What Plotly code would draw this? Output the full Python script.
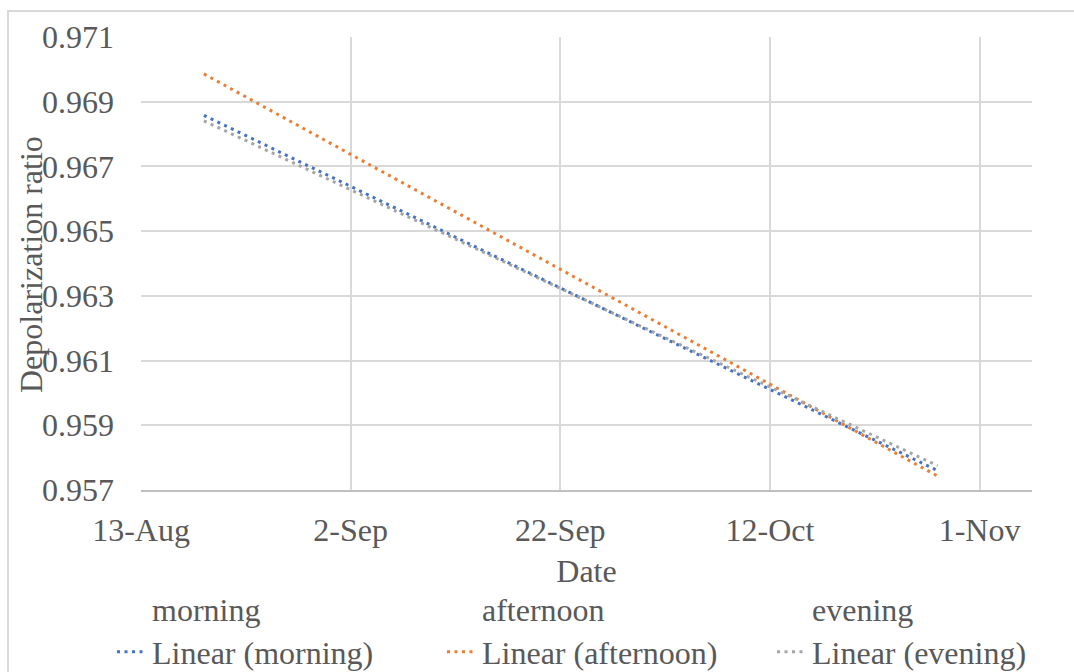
import plotly.graph_objects as go

# Trend-line endpoints
series_names = ["morning", "afternoon", "evening"]
trend_dates = ["2020-08-19", "2020-10-28"]
morning_trend = [0.96858, 0.95760]
afternoon_trend = [0.96986, 0.95743]
evening_trend = [0.96841, 0.95775]
colors = ["#4472C4", "#ED7D31", "#A5A5A5"]
x_ticks = ["2020-08-13", "2020-09-02", "2020-09-22", "2020-10-12", "2020-11-01"]
x_tick_labels = ["13-Aug", "2-Sep", "22-Sep", "12-Oct", "1-Nov"]
y_ticks = [0.957, 0.959, 0.961, 0.963, 0.965, 0.967, 0.969, 0.971]

FONT = "Liberation Serif"
TXT = "#595959"
FS = 32

fig = go.Figure()

# legend-only entries for the raw series (no visible marker)
for name in series_names:
    fig.add_trace(go.Scatter(x=[None], y=[None], mode="lines", name=name,
                             line=dict(width=0, color="rgba(0,0,0,0)"),
                             legend="legend", hoverinfo="skip"))

for name, vals, c in zip(series_names, [morning_trend, afternoon_trend, evening_trend], colors):
    fig.add_trace(go.Scatter(x=trend_dates, y=vals, mode="lines",
                             name=f"Linear ({name})",
                             line=dict(color=c, width=3, dash="3px,4.5px"),
                             legend="legend2"))

L, R, T, B = 141, 42, 37, 182
W, H = 1074, 672
pw = W - L - R
ph = H - T - B

def px_x(p):
    return (p - L) / pw

def px_y(p):
    return (H - B - p) / ph

fig.update_layout(
    width=W, height=H,
    margin=dict(l=L, r=R, t=T, b=B, autoexpand=False),
    paper_bgcolor="white", plot_bgcolor="white",
    font=dict(family=FONT, size=FS, color=TXT),
    xaxis=dict(
        type="date",
        range=["2020-08-13", "2020-11-06"],
        tickvals=x_ticks, ticktext=x_tick_labels,
        showgrid=True, gridcolor="#d9d9d9", gridwidth=2,
        showline=True, linecolor="#bfbfbf", linewidth=2,
        zeroline=False, ticks="", ticklabelstandoff=11,
        tickfont=dict(family=FONT, size=FS, color=TXT),
        title=dict(text="Date", font=dict(family=FONT, size=FS, color=TXT), standoff=12),
    ),
    yaxis=dict(
        range=[0.957, 0.971],
        tickvals=y_ticks, ticktext=[f"{v:.3f}" for v in y_ticks],
        showgrid=True, gridcolor="#d9d9d9", gridwidth=2,
        showline=False, zeroline=False, ticks="", ticklabelstandoff=26,
        tickfont=dict(family=FONT, size=FS, color=TXT),
    ),
    showlegend=True,
    legend=dict(orientation="h", x=px_x(112), xanchor="left",
                y=px_y(609), yanchor="middle",
                entrywidth=285, entrywidthmode="pixels",
                font=dict(family=FONT, size=FS, color=TXT), bgcolor="rgba(0,0,0,0)",
                traceorder="normal"),
    legend2=dict(orientation="h", x=px_x(112), xanchor="left",
                 y=px_y(652), yanchor="middle",
                 entrywidth=285, entrywidthmode="pixels",
                 font=dict(family=FONT, size=FS, color=TXT), bgcolor="rgba(0,0,0,0)",
                 traceorder="normal"),
    shapes=[dict(type="rect", xref="paper", yref="paper",
                 x0=px_x(8), x1=px_x(1090), y0=px_y(11), y1=px_y(700),
                 line=dict(color="#d9d9d9", width=2), layer="below")],
    annotations=[dict(text="Depolarization ratio", textangle=-90,
                      xref="paper", yref="paper", x=px_x(31), y=px_y(265),
                      xanchor="center", yanchor="middle", showarrow=False,
                      font=dict(family=FONT, size=FS, color=TXT))],
)

fig.write_html("out.html")
